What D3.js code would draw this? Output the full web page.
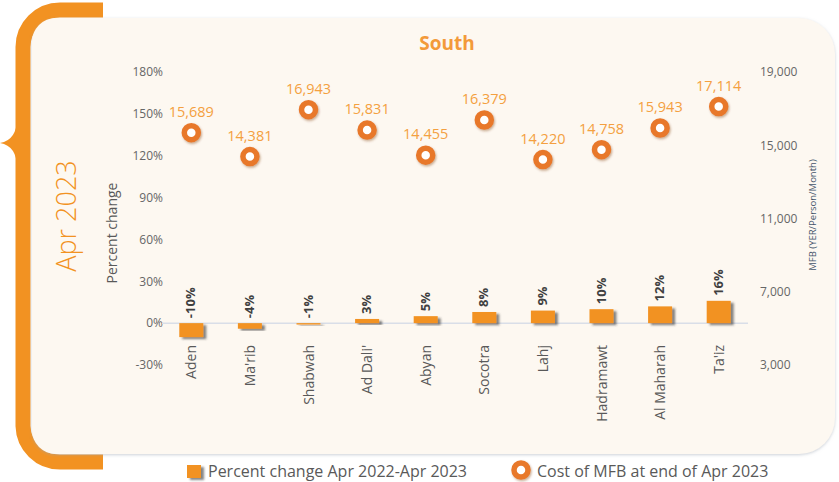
<!DOCTYPE html>
<head>
  <meta charset="utf-8">
  <script src="https://d3js.org/d3.v7.min.js"></script>
  <style>
    body { margin: 0; background: #fff; }
    svg { display: block; font-family: "Open Sans", sans-serif; }
  </style>
</head>

<body>
  <svg width="839" height="482"></svg>
  <script>
    // data
    var categories = ["Aden", "Ma'rib", "Shabwah", "Ad Dali'", "Abyan", "Socotra", "Lahj", "Hadramawt", "Al Maharah", "Ta'iz"];
    var pctChange = [-10, -4, -1, 3, 5, 8, 9, 10, 12, 16];
    var mfbCost = [15689, 14381, 16943, 15831, 14455, 16379, 14220, 14758, 15943, 17114];
    var leftTicks = [-30, 0, 30, 60, 90, 120, 150, 180];
    var rightTicks = [3000, 7000, 11000, 15000, 19000];

    var orange = "#f29222";
    var ring = "#e8782c";
    var labelOrange = "#f4a040";
    var grey = "#666666";

    var svg = d3.select('svg');
    var defs = svg.append('defs');

    var shadow = defs.append('filter').attr('id', 'cardShadow')
      .attr('x', '-5%').attr('y', '-5%').attr('width', '110%').attr('height', '115%');
    shadow.append('feDropShadow').attr('dx', 0).attr('dy', 1).attr('stdDeviation', 1.5)
      .attr('flood-color', '#9aa3b0').attr('flood-opacity', 0.5);

    var barShadow = defs.append('filter').attr('id', 'barShadow')
      .attr('x', '-20%').attr('y', '-20%').attr('width', '160%').attr('height', '160%');
    barShadow.append('feDropShadow').attr('dx', 3).attr('dy', 2).attr('stdDeviation', 1)
      .attr('flood-color', '#333').attr('flood-opacity', 0.6);

    var dotShadow = defs.append('filter').attr('id', 'dotShadow')
      .attr('x', '-50%').attr('y', '-50%').attr('width', '200%').attr('height', '200%');
    dotShadow.append('feDropShadow').attr('dx', 1).attr('dy', 1.5).attr('stdDeviation', 1)
      .attr('flood-color', '#7a3b10').attr('flood-opacity', 0.4);

    // orange bracket behind the card
    svg.append('path')
      .attr('d', 'M103,10 H60 A37,37 0 0 0 23,47 V426 A37,37 0 0 0 60,462 H103')
      .attr('fill', 'none').attr('stroke', orange).attr('stroke-width', 15);
    svg.append('path')
      .attr('d', 'M17,118 Q17,140 0,143 Q17,146 17,168 Z')
      .attr('fill', orange);

    // card
    var cx0 = 32, cy0 = 18, cx1 = 835, cy1 = 454, rl = 24, rr = 36;
    svg.append('path')
      .attr('d', 'M' + (cx0 + rl) + ',' + cy0 + ' H' + (cx1 - rr) +
        ' A' + rr + ',' + rr + ' 0 0 1 ' + cx1 + ',' + (cy0 + rr) +
        ' V' + (cy1 - rr) + ' A' + rr + ',' + rr + ' 0 0 1 ' + (cx1 - rr) + ',' + cy1 +
        ' H' + (cx0 + rl) + ' A' + rl + ',' + rl + ' 0 0 1 ' + cx0 + ',' + (cy1 - rl) +
        ' V' + (cy0 + rl) + ' A' + rl + ',' + rl + ' 0 0 1 ' + (cx0 + rl) + ',' + cy0 + ' Z')
      .attr('fill', '#fdf8f1')
      .attr('filter', 'url(#cardShadow)');

    // scales
    var xScale = d3.scaleBand()
      .domain(categories)
      .range([162, 748])
      .paddingInner(0.59)
      .paddingOuter(0.295);

    var yLeft = d3.scaleLinear().domain([-30, 180]).range([365, 72]);
    var yRight = d3.scaleLinear().domain([3000, 19000]).range([365, 72]);

    // titles
    svg.append('text')
      .attr('x', 447).attr('y', 50)
      .attr('text-anchor', 'middle')
      .attr('font-size', 19).attr('font-weight', 'bold')
      .attr('fill', '#f39a3a')
      .text('South');

    svg.append('text')
      .attr('transform', 'translate(76,216) rotate(-90)')
      .attr('text-anchor', 'middle')
      .attr('font-size', 27).attr('font-weight', 300)
      .attr('fill', orange)
      .text('Apr 2023');

    svg.append('text')
      .attr('transform', 'translate(117,233) rotate(-90)')
      .attr('text-anchor', 'middle')
      .attr('font-size', 14)
      .attr('fill', '#595959')
      .text('Percent change');

    svg.append('text')
      .attr('transform', 'translate(816,215) rotate(-90)')
      .attr('text-anchor', 'middle')
      .attr('font-size', 9.5)
      .attr('fill', '#44546a')
      .text('MFB (YER/Person/Month)');

    // axes
    var leftAxis = d3.axisLeft(yLeft)
      .tickValues(leftTicks)
      .tickSize(0).tickPadding(3)
      .tickFormat(function(d){ return d + '%'; });
    var gl = svg.append('g')
      .attr('transform', 'translate(166,0)')
      .call(leftAxis);
    gl.select('.domain').remove();
    gl.selectAll('text').attr('font-size', 12).attr('fill', grey)
      .attr('font-family', '"Open Sans", sans-serif');

    var rightAxis = d3.axisRight(yRight)
      .tickValues(rightTicks)
      .tickSize(0).tickPadding(4)
      .tickFormat(d3.format(','));
    var gr = svg.append('g')
      .attr('transform', 'translate(756,0)')
      .call(rightAxis);
    gr.select('.domain').remove();
    gr.selectAll('text').attr('font-size', 12).attr('fill', grey)
      .attr('font-family', '"Open Sans", sans-serif');

    // zero line
    svg.append('line')
      .attr('x1', 162).attr('x2', 748)
      .attr('y1', yLeft(0)).attr('y2', yLeft(0))
      .attr('stroke', '#d9dee8').attr('stroke-width', 1.5);

    // bars
    svg.selectAll('rect.bar')
      .data(pctChange)
      .enter().append('rect')
      .attr('class', 'bar')
      .attr('x', function(d, i){ return xScale(categories[i]); })
      .attr('y', function(d){ return yLeft(Math.max(0, d)); })
      .attr('width', xScale.bandwidth())
      .attr('height', function(d){ return Math.abs(yLeft(d) - yLeft(0)); })
      .attr('fill', orange)
      .attr('filter', 'url(#barShadow)');

    // bar labels
    svg.selectAll('text.barlabel')
      .data(pctChange)
      .enter().append('text')
      .attr('class', 'barlabel')
      .attr('transform', function(d, i){
        var x = xScale(categories[i]) + xScale.bandwidth() / 2 + 4;
        var y = yLeft(Math.max(0, d)) - 5;
        return 'translate(' + x + ',' + y + ') rotate(-90)';
      })
      .attr('font-size', 13).attr('font-weight', 'bold')
      .attr('fill', '#404040')
      .text(function(d){ return d + '%'; });

    // category labels
    svg.selectAll('text.cat')
      .data(categories)
      .enter().append('text')
      .attr('class', 'cat')
      .attr('transform', function(d){
        var x = xScale(d) + xScale.bandwidth() / 2 + 5;
        return 'translate(' + x + ',345) rotate(-90)';
      })
      .attr('text-anchor', 'end')
      .attr('font-size', 14)
      .attr('fill', '#595959')
      .text(function(d){ return d; });

    // MFB dots
    svg.selectAll('circle.dot')
      .data(mfbCost)
      .enter().append('circle')
      .attr('class', 'dot')
      .attr('cx', function(d, i){ return xScale(categories[i]) + xScale.bandwidth() / 2; })
      .attr('cy', function(d){ return yRight(d); })
      .attr('r', 7)
      .attr('fill', '#fff')
      .attr('stroke', ring).attr('stroke-width', 5.5)
      .attr('filter', 'url(#dotShadow)');

    svg.selectAll('text.dotlabel')
      .data(mfbCost)
      .enter().append('text')
      .attr('class', 'dotlabel')
      .attr('x', function(d, i){ return xScale(categories[i]) + xScale.bandwidth() / 2; })
      .attr('y', function(d){ return yRight(d) - 16; })
      .attr('text-anchor', 'middle')
      .attr('font-size', 14.5)
      .attr('fill', labelOrange)
      .text(d3.format(','));

    // legend
    var legend = svg.append('g');
    legend.append('rect')
      .attr('x', 187).attr('y', 465).attr('width', 14).attr('height', 13)
      .attr('fill', orange).attr('filter', 'url(#barShadow)');
    legend.append('text')
      .attr('x', 208).attr('y', 477)
      .attr('font-size', 16).attr('fill', '#595959')
      .text('Percent change Apr 2022-Apr 2023');
    legend.append('circle')
      .attr('cx', 521).attr('cy', 470).attr('r', 7)
      .attr('fill', '#fff').attr('stroke', ring).attr('stroke-width', 5.5)
      .attr('filter', 'url(#dotShadow)');
    legend.append('text')
      .attr('x', 537).attr('y', 477)
      .attr('font-size', 16).attr('fill', '#595959')
      .text('Cost of MFB at end of Apr 2023');
  </script>
</body>
